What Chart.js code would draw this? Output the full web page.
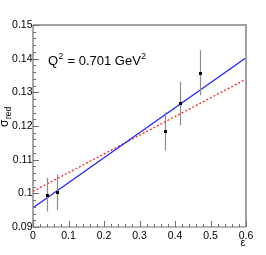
<!DOCTYPE html>
<html>
<head>
<meta charset="utf-8">
<script src="https://cdn.jsdelivr.net/npm/chart.js@4"></script>
<style>
  html, body { margin: 0; padding: 0; background: #fff; }
  #wrap { width: 266px; height: 255px; position: relative; }
</style>
</head>
<body>
<div id="wrap"><canvas id="chart"></canvas></div>
<script>
// measured points
const epsValues = [0.039, 0.067, 0.372, 0.414, 0.470];
const sigmaValues = [0.0996, 0.1003, 0.1184, 0.1267, 0.1358];
const sigmaErrors = [0.0050, 0.0053, 0.0057, 0.0065, 0.0067];

// fit lines, end points at eps = 0 and 0.6
const fitEps = [0, 0.6];
const blueFit = [0.0957, 0.1403];
const redFit = [0.1006, 0.1339];

const xTicks = [0, 0.1, 0.2, 0.3, 0.4, 0.5, 0.6];
const yTicks = [0.09, 0.1, 0.11, 0.12, 0.13, 0.14, 0.15];

const FONT = '"Liberation Sans", Arial, sans-serif';

const points = epsValues.map((x, i) => ({ x: x, y: sigmaValues[i] }));
const bluePts = fitEps.map((x, i) => ({ x: x, y: blueFit[i] }));
const redPts = fitEps.map((x, i) => ({ x: x, y: redFit[i] }));

// error bars + markers
const errorBars = {
  id: 'errorBars',
  afterDatasetsDraw(chart) {
    const ctx = chart.ctx;
    const xs = chart.scales.x, ys = chart.scales.y;
    ctx.save();
    ctx.strokeStyle = '#8c8c8c';
    ctx.lineWidth = 1.2;
    epsValues.forEach((x, i) => {
      const px = Math.round(xs.getPixelForValue(x)) + 0.5;
      ctx.beginPath();
      ctx.moveTo(px, ys.getPixelForValue(sigmaValues[i] + sigmaErrors[i]));
      ctx.lineTo(px, ys.getPixelForValue(sigmaValues[i] - sigmaErrors[i]));
      ctx.stroke();
    });
    ctx.fillStyle = '#000';
    epsValues.forEach((x, i) => {
      const px = xs.getPixelForValue(x), py = ys.getPixelForValue(sigmaValues[i]);
      ctx.fillRect(Math.round(px) - 1, Math.round(py) - 1, 3, 3);
    });
    ctx.restore();
  }
};

// ROOT-style frame, inner ticks, labels
const frame = {
  id: 'frame',
  afterDraw(chart) {
    const ctx = chart.ctx;
    const a = chart.chartArea;
    const xs = chart.scales.x, ys = chart.scales.y;
    ctx.save();

    // frame
    ctx.strokeStyle = '#a0a0a0';
    ctx.lineWidth = 2;
    ctx.beginPath();
    ctx.moveTo(a.left, a.top);
    ctx.lineTo(a.right, a.top);
    ctx.lineTo(a.right, a.bottom);
    ctx.stroke();

    ctx.strokeStyle = '#707070';
    ctx.lineWidth = 1.2;
    ctx.beginPath();
    ctx.moveTo(a.left, a.top);
    ctx.lineTo(a.left, a.bottom);
    ctx.lineTo(a.right, a.bottom);
    ctx.stroke();

    // x ticks
    ctx.lineWidth = 1;
    for (let k = 0; k <= 30; k++) {
      const v = k * 0.02;
      const px = Math.round(xs.getPixelForValue(v)) + 0.5;
      const len = (k % 5 === 0) ? 6 : 3;
      ctx.beginPath();
      ctx.moveTo(px, a.bottom);
      ctx.lineTo(px, a.bottom - len);
      ctx.stroke();
    }
    // y ticks
    for (let k = 0; k <= 30; k++) {
      const v = 0.09 + k * 0.002;
      const py = Math.round(ys.getPixelForValue(v)) + 0.5;
      const len = (k % 5 === 0) ? 6 : 3;
      ctx.beginPath();
      ctx.moveTo(a.left, py);
      ctx.lineTo(a.left + len, py);
      ctx.stroke();
    }

    // tick labels
    ctx.fillStyle = '#000';
    ctx.font = '10.5px ' + FONT;
    ctx.textAlign = 'center';
    ctx.textBaseline = 'top';
    xTicks.forEach(v => {
      ctx.fillText(String(v), xs.getPixelForValue(v), a.bottom + 4);
    });
    ctx.textAlign = 'right';
    ctx.textBaseline = 'middle';
    yTicks.forEach(v => {
      ctx.fillText(String(Math.round(v * 100) / 100), a.left - 0.5, ys.getPixelForValue(v));
    });

    // x title
    ctx.font = '11px ' + FONT;
    ctx.textAlign = 'center';
    ctx.textBaseline = 'middle';
    ctx.fillText('ε', 243, 243);

    // y title, rotated
    ctx.save();
    ctx.translate(4, 127);
    ctx.rotate(-Math.PI / 2);
    ctx.textAlign = 'left';
    ctx.textBaseline = 'alphabetic';
    ctx.font = '12px ' + FONT;
    ctx.fillText('σ', 0, 4);
    const w = ctx.measureText('σ').width;
    ctx.font = '8.5px ' + FONT;
    ctx.fillText('red', w + 0.5, 6.5);
    ctx.restore();

    // annotation
    ctx.textAlign = 'left';
    ctx.textBaseline = 'alphabetic';
    let x = 48;
    const base = 65;
    ctx.font = '13px ' + FONT;
    ctx.fillText('Q', x, base);
    x += ctx.measureText('Q').width;
    ctx.font = '8.5px ' + FONT;
    ctx.fillText('2', x + 0.5, base - 6);
    x += ctx.measureText('2').width + 1;
    ctx.font = '13px ' + FONT;
    const mid = ' = 0.701 GeV';
    ctx.fillText(mid, x, base);
    x += ctx.measureText(mid).width;
    ctx.font = '8.5px ' + FONT;
    ctx.fillText('2', x + 0.5, base - 6);

    ctx.restore();
  }
};

new Chart(document.getElementById('chart'), {
  type: 'scatter',
  data: {
    datasets: [
      {
        data: bluePts,
        showLine: true,
        borderColor: '#1f1fff',
        borderWidth: 1.3,
        pointRadius: 0,
        fill: false
      },
      {
        data: redPts,
        showLine: true,
        borderColor: '#ff2020',
        borderWidth: 1.3,
        borderDash: [2, 2],
        pointRadius: 0,
        fill: false
      },
      {
        data: points,
        showLine: false,
        pointRadius: 0,
        borderColor: '#000',
        backgroundColor: '#000'
      }
    ]
  },
  options: {
    responsive: true,
    maintainAspectRatio: false,
    animation: false,
    layout: { padding: { left: 33, right: 20, top: 25, bottom: 28 } },
    plugins: {
      legend: { display: false },
      tooltip: { enabled: false }
    },
    scales: {
      x: { type: 'linear', min: 0, max: 0.6, display: false },
      y: { type: 'linear', min: 0.09, max: 0.15, display: false }
    }
  },
  plugins: [errorBars, frame]
});
</script>
</body>
</html>
